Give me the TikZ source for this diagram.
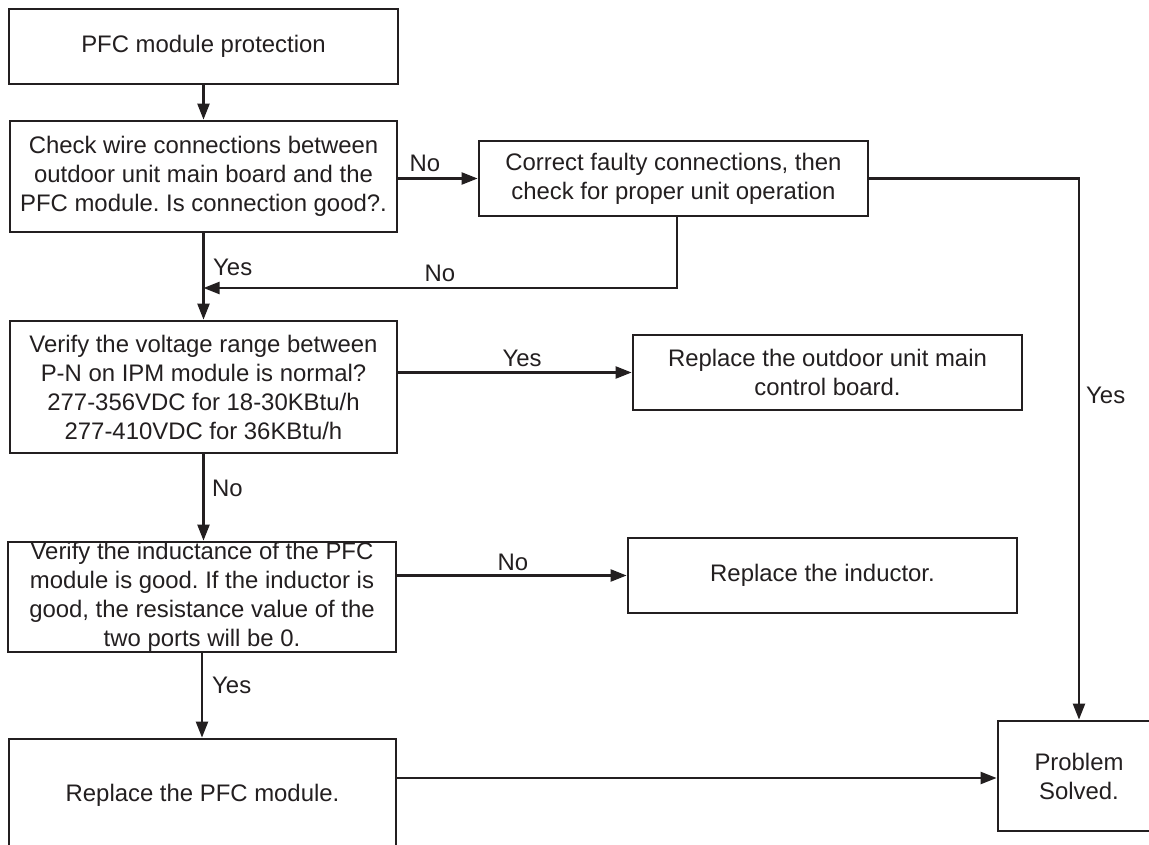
\documentclass[tikz,border=0pt]{standalone}
\usepackage{fontspec}
\setmainfont{Liberation Sans}
\usetikzlibrary{arrows.meta}
\definecolor{ink}{RGB}{35,31,32}
\frenchspacing
\begin{document}
\begin{tikzpicture}[x=1pt,y=-1pt,
  box/.style={draw=ink, line width=2.8pt, inner sep=0pt, align=center, text=ink,
    font=\fontsize{23.9pt}{29pt}\selectfont},
  conn/.style={draw=ink, line width=2.2pt, -{Triangle[length=16pt,width=12pt]}},
  wire/.style={draw=ink, line width=2.2pt},
  lbl/.style={text=ink, inner sep=0pt, font=\fontsize{23.9pt}{29pt}\selectfont}]
\clip (0,0) rectangle (1149,844);
\fill[white] (0,0) rectangle (1149,844);

\node[box, minimum width=389pt, minimum height=75pt] (b1) at (203.5,46.5) {PFC module protection};
\node[box, minimum width=387pt, minimum height=111pt] (b2) at (203.5,176.5)
  {Check wire connections between\\outdoor unit main board and the\\PFC module. Is connection good?.};
\node[box, minimum width=389pt, minimum height=75pt] (b3) at (673.5,178.5)
  {Correct faulty connections, then\\check for proper unit operation};
\node[box, minimum width=387pt, minimum height=132pt] (b4) at (203.5,387)
  {Verify the voltage range between\\P-N on IPM module is normal?\\277-356VDC for 18-30KBtu/h\\277-410VDC for 36KBtu/h};
\node[box, minimum width=389pt, minimum height=75pt] (b5) at (827.5,372.5)
  {Replace the outdoor unit main\\control board.};
\node[box, minimum width=388pt, minimum height=110pt] (b6) at (202,597)
  {Verify the inductance of the PFC\\module is good. If the inductor is\\good, the resistance value of the\\two ports will be 0.};
\node[box, minimum width=389pt, minimum height=75pt] (b7) at (822.5,575.5)
  {Replace the inductor.};
\node[box, minimum width=387pt, minimum height=112pt] (b8) at (202.5,795)
  {Replace the PFC module.};
\node[box, minimum width=162pt, minimum height=110pt] (b9) at (1079,776)
  {Problem\\Solved.};

\coordinate (r1) at (677,288);
\coordinate (yb) at (0,778);

\draw[conn] (b1.south) -- (b2.north);
\draw[conn] (b2.east |- b3.west) -- (b3.west);
\draw[conn] (b3.east) -| (b9.north);
\draw[conn] (b3.south -| r1) -- (r1) -- (b2.south |- r1);
\draw[conn] (b2.south) -- (b4.north);
\draw[conn] (b4.east |- b5.west) -- (b5.west);
\draw[conn] (b4.south) -- (b4.south |- b6.north);
\draw[conn] (b6.east |- b7.west) -- (b7.west);
\draw[conn] (b6.south) -- (b6.south |- b8.north);
\draw[conn] (b8.east |- yb) -- (b9.west |- yb);

\node[lbl, anchor=base] (l1) at (425,171) {No};
\node[lbl, anchor=base west] (l2) at (213,275) {Yes};
\node[lbl, anchor=base] (l3) at (440,281) {No};
\node[lbl, anchor=base] (l4) at (522,366) {Yes};
\node[lbl, anchor=base west] (l5) at (1086,403) {Yes};
\node[lbl, anchor=base west] (l6) at (212,496) {No};
\node[lbl, anchor=base] (l7) at (513,570) {No};
\node[lbl, anchor=base west] (l8) at (212,693) {Yes};
\end{tikzpicture}
\end{document}
